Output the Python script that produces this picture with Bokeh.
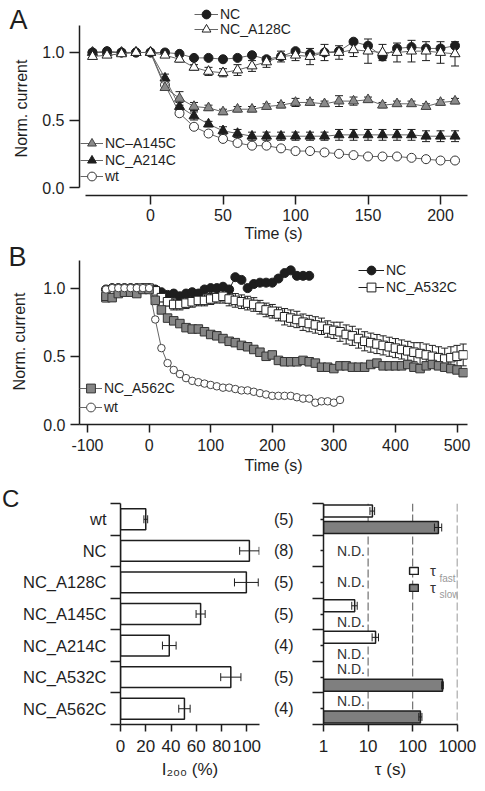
import math
from bokeh.plotting import figure
from bokeh.models import (Range1d, FixedTicker, NumeralTickFormatter, Legend, LegendItem,
                          Whisker, TeeHead, ColumnDataSource, Label, Span)
from bokeh.layouts import column, row
from bokeh.embed import file_html
from bokeh.resources import INLINE
from bokeh.core.properties import value

FONT = "Liberation Sans"
INK = "#1e1e1e"
MID = "#666666"
GFILL = "#8a8a8a"

# ---------------- Panel A data ----------------
time_a = list(range(-40, 211, 10))
nc_a = [1.00, 1.01, 1.00, 1.00, 1.00, 1.00, 0.99, 0.96, 0.96, 0.95, 0.96, 0.98, 0.95,
        0.97, 1.01, 0.99, 1.00, 1.01, 1.08, 1.05, 0.97, 1.03, 1.04, 1.03, 1.03, 1.05]
a128c_a = [0.97, 0.98, 0.99, 1.00, 1.00, 0.98, 0.95, 0.89, 0.86, 0.85, 0.87, 0.90, 0.93,
           0.97, 0.98, 0.97, 1.00, 1.00, 1.02, 1.01, 1.00, 1.00, 1.01, 1.01, 1.00, 0.99]
a128c_err = [0.01, 0.01, 0.01, 0.00, 0.00, 0.01, 0.02, 0.02, 0.03, 0.03, 0.04, 0.04, 0.04,
             0.04, 0.04, 0.06, 0.06, 0.05, 0.05, 0.09, 0.06, 0.07, 0.08, 0.07, 0.08, 0.09]
a145c_a = [1.00, 1.00, 1.00, 1.00, 1.00, 0.74, 0.66, 0.60, 0.59, 0.56, 0.58, 0.58, 0.60,
           0.61, 0.63, 0.63, 0.62, 0.64, 0.64, 0.65, 0.61, 0.62, 0.62, 0.60, 0.63, 0.64]
a145c_err = [0.00, 0.00, 0.00, 0.00, 0.00, 0.02, 0.05, 0.03, 0.02, 0.02, 0.02, 0.02, 0.02,
             0.02, 0.03, 0.02, 0.02, 0.04, 0.03, 0.02, 0.02, 0.02, 0.02, 0.02, 0.02, 0.02]
a214c_a = [1.00, 1.00, 1.00, 1.00, 1.00, 0.81, 0.60, 0.53, 0.47, 0.42, 0.40, 0.38, 0.38,
           0.38, 0.38, 0.38, 0.38, 0.39, 0.39, 0.39, 0.39, 0.39, 0.39, 0.38, 0.38, 0.38]
a214c_err = [0.00, 0.00, 0.00, 0.00, 0.00, 0.03, 0.03, 0.03, 0.02, 0.03, 0.03, 0.03, 0.03,
             0.03, 0.03, 0.03, 0.03, 0.04, 0.04, 0.04, 0.04, 0.04, 0.04, 0.04, 0.04, 0.04]
wt_a = [1.00, 1.00, 1.00, 1.00, 1.00, 0.76, 0.55, 0.45, 0.40, 0.36, 0.33, 0.31, 0.31,
        0.29, 0.27, 0.27, 0.26, 0.25, 0.24, 0.23, 0.23, 0.23, 0.22, 0.21, 0.20, 0.20]

# ---------------- Panel B data ----------------
time_b_long = list(range(-70, 511, 10))
a562c_b = [0.94, 0.93, 0.96, 0.97, 0.97, 0.96, 0.99, 0.99,
           0.91, 0.84, 0.78, 0.76, 0.74, 0.71, 0.70, 0.70, 0.68, 0.66,
           0.65, 0.63, 0.61, 0.60, 0.58, 0.57, 0.55, 0.53, 0.50, 0.51,
           0.47, 0.46, 0.46, 0.46, 0.47, 0.46, 0.45, 0.42, 0.42, 0.41,
           0.43, 0.43, 0.42, 0.42, 0.42, 0.44, 0.45, 0.43, 0.43, 0.43,
           0.43, 0.44, 0.42, 0.41, 0.43, 0.44, 0.43, 0.42, 0.41, 0.40, 0.38]
a532c_b = [0.93, 0.96, 0.98, 0.99, 0.99, 0.99, 1.00, 1.00,
           0.98, 0.93, 0.90, 0.88, 0.88, 0.89, 0.90, 0.91, 0.91, 0.92,
           0.93, 0.94, 0.92, 0.91, 0.90, 0.89, 0.88, 0.86, 0.84, 0.83,
           0.81, 0.79, 0.78, 0.77, 0.75, 0.74, 0.73, 0.72, 0.70, 0.69,
           0.68, 0.66, 0.65, 0.63, 0.61, 0.60, 0.59, 0.58, 0.57, 0.56,
           0.55, 0.54, 0.53, 0.52, 0.51, 0.50, 0.49, 0.48, 0.49, 0.50, 0.51]
a532c_err = [0.03, 0.02, 0.02, 0.01, 0.01, 0.01, 0.00, 0.00,
             0.02, 0.03, 0.03, 0.04, 0.04, 0.04, 0.04, 0.04, 0.04, 0.04,
             0.04, 0.05, 0.05, 0.05, 0.05, 0.05, 0.05, 0.05, 0.05, 0.05,
             0.05, 0.06, 0.06, 0.06, 0.06, 0.06, 0.06, 0.06, 0.06, 0.06,
             0.07, 0.07, 0.07, 0.07, 0.07, 0.07, 0.07, 0.07, 0.07, 0.07,
             0.07, 0.07, 0.07, 0.08, 0.08, 0.08, 0.08, 0.08, 0.08, 0.08, 0.08]
time_b_nc = list(range(-70, 261, 10))
nc_b = [0.99, 1.00, 1.00, 1.00, 1.00, 1.00, 1.00, 1.00,
        0.99, 0.97, 0.95, 0.96, 0.94, 0.96, 0.97, 0.96, 0.99, 1.00,
        1.00, 1.01, 0.99, 1.08, 1.06, 1.00, 1.03, 1.04, 1.04, 1.04,
        1.07, 1.11, 1.13, 1.09, 1.09, 1.09]
time_b_wt = list(range(-70, 311, 10))
wt_b = [0.99, 1.00, 1.00, 1.00, 1.00, 1.00, 1.00, 1.00,
        0.77, 0.56, 0.45, 0.40, 0.37, 0.34, 0.32, 0.31, 0.30, 0.29,
        0.28, 0.27, 0.27, 0.26, 0.25, 0.25, 0.24, 0.23, 0.22, 0.21,
        0.21, 0.21, 0.21, 0.20, 0.19, 0.19, 0.16, 0.17, 0.17, 0.16, 0.18]

# ---------------- Panel C data ----------------
categories = ["wt", "NC", "NC_A128C", "NC_A145C", "NC_A214C", "NC_A532C", "NC_A562C"]
n_cells = ["(5)", "(8)", "(5)", "(5)", "(4)", "(5)", "(4)"]
i200 = [20.0, 102.0, 99.6, 63.4, 38.6, 87.3, 50.6]
i200_err = [1.5, 7.7, 9.4, 3.6, 5.4, 8.0, 4.5]
tau_fast = [12.5, None, None, 5.0, 14.7, None, None]
tau_fast_err = [1.5, None, None, 0.7, 2.4, None, None]
tau_slow = [377.0, None, None, None, None, 466.0, 149.0]
tau_slow_err = [70.0, None, None, None, None, 20.0, 12.0]


def make_fig(w, h, bl, br, bt, bb, xr, yr, x_type="linear"):
    p = figure(width=w, height=h, x_range=xr, y_range=yr, x_axis_type=x_type,
               output_backend="svg", toolbar_location=None, title=None,
               min_border_left=bl, min_border_right=br, min_border_top=bt, min_border_bottom=bb)
    p.outline_line_color = None
    p.grid.grid_line_color = None
    p.background_fill_color = "white"
    p.border_fill_color = "white"
    for ax in p.axis:
        ax.axis_line_color = INK
        ax.axis_line_width = 1.5
        ax.major_tick_line_color = INK
        ax.major_tick_line_width = 1.5
        ax.major_tick_in = 0
        ax.minor_tick_line_color = None
        ax.major_label_text_font = FONT
        ax.major_label_text_color = INK
        ax.axis_label_text_font = FONT
        ax.axis_label_text_font_style = "normal"
        ax.axis_label_text_color = INK
    return p


def make_strip(w, h):
    p = figure(width=w, height=h, x_range=Range1d(0, w), y_range=Range1d(0, h),
               output_backend="svg", toolbar_location=None, title=None,
               x_axis_location=None, y_axis_location=None, min_border=0)
    p.outline_line_color = None
    p.grid.visible = False
    p.background_fill_color = "white"
    p.border_fill_color = "white"
    return p


def strip_text(p, x, y, txt, size, angle=0.0, align="left"):
    p.text(x=[x], y=[y], text=[txt], angle=angle, text_font=value(FONT),
           text_font_size=size, text_color=INK, text_align=align, text_baseline="middle")


def series(p, t, y, marker, size, fill, edge, line_color, err=None, head=8):
    data = dict(t=t, y=y)
    if err is not None:
        data["lo"] = [a - e for a, e in zip(y, err)]
        data["hi"] = [a + e for a, e in zip(y, err)]
    src = ColumnDataSource(data)
    if err is not None:
        p.add_layout(Whisker(source=src, base="t", lower="lo", upper="hi", dimension="height",
                             line_color=INK, line_width=1,
                             upper_head=TeeHead(size=head, line_color=INK, line_width=1),
                             lower_head=TeeHead(size=head, line_color=INK, line_width=1)))
    ln = p.line("t", "y", source=src, line_color=line_color, line_width=1)
    sc = p.scatter("t", "y", source=src, marker=marker, size=size, fill_color=fill,
                   line_color=edge, line_width=1)
    return [ln, sc]


def legend_item(p, label, renderers, loc, gw):
    lg = Legend(items=[LegendItem(label=label, renderers=renderers)],
                location=loc, glyph_width=gw, glyph_height=22, label_height=22,
                spacing=0, padding=0, margin=0, label_standoff=2,
                border_line_color=None, background_fill_alpha=0,
                label_text_font=FONT, label_text_font_size="14px", label_text_color=INK)
    p.add_layout(lg)


# ============ left strip for panels A and B (panel letters, y titles) ============
STRIP_H = 480
sAB = make_strip(30, STRIP_H)
strip_text(sAB, 9, STRIP_H - 19.5, "A", "27px")
strip_text(sAB, 21, STRIP_H - 108, "Norm. current", "16px", angle=math.pi / 2, align="center")
strip_text(sAB, 8, STRIP_H - 256, "B", "27px")
strip_text(sAB, 19, STRIP_H - 341, "Norm. current", "16px", angle=math.pi / 2, align="center")

# ================= Panel A =================
pA = make_fig(450, 254, 49, 13, 5, 59, Range1d(-48.97, 218.6), Range1d(-0.059, 1.348))
pA.xaxis.ticker = FixedTicker(ticks=[0, 50, 100, 150, 200])
pA.xaxis.bounds = (-45, 218.6)
pA.xaxis.major_tick_out = 9
pA.xaxis.major_label_standoff = 4
pA.xaxis.axis_label = "Time (s)"
pA.xaxis.axis_label_standoff = 1
pA.yaxis.ticker = FixedTicker(ticks=[0.0, 0.5, 1.0])
pA.yaxis.formatter = NumeralTickFormatter(format="0.0")
pA.yaxis.bounds = (0, 1.2)
pA.yaxis.major_tick_out = 10
pA.yaxis.major_label_standoff = 5
for ax in pA.axis:
    ax.major_label_text_font_size = "16px"
    ax.axis_label_text_font_size = "16px"

r_wt_a = series(pA, time_a, wt_a, "circle", 9, "white", "#333333", MID)
r_214_a = series(pA, time_a, a214c_a, "triangle", 10, INK, INK, MID, a214c_err)
r_145_a = series(pA, time_a, a145c_a, "triangle", 10, GFILL, "#444444", MID, a145c_err)
r_nc_a = series(pA, time_a, nc_a, "circle", 9, INK, INK, MID)
r_128_a = series(pA, time_a, a128c_a, "triangle", 10, "white", INK, MID, a128c_err)

legend_item(pA, "NC", r_nc_a, (115, 170), 24)
legend_item(pA, "NC_A128C", r_128_a, (115, 155), 24)
legend_item(pA, "NC\u2013A145C", r_145_a, (1, 41), 23)
legend_item(pA, "NC_A214C", r_214_a, (1, 24), 23)
legend_item(pA, "wt", r_wt_a, (1, 8), 23)

# ================= Panel B =================
pB = make_fig(450, 226, 48, 13, 4, 56, Range1d(-113, 517), Range1d(0, 1.217))
pB.xaxis.ticker = FixedTicker(ticks=[-100, 0, 100, 200, 300, 400, 500])
pB.xaxis.major_label_overrides = {-100: "-100"}
pB.xaxis.major_tick_out = 8
pB.xaxis.major_label_standoff = 6
pB.xaxis.axis_label = "Time (s)"
pB.xaxis.axis_label_standoff = 3
pB.yaxis.ticker = FixedTicker(ticks=[0.0, 0.5, 1.0])
pB.yaxis.formatter = NumeralTickFormatter(format="0.0")
pB.yaxis.bounds = (0, 1.2)
pB.yaxis.major_tick_out = 9
pB.yaxis.major_label_standoff = 5
for ax in pB.axis:
    ax.major_label_text_font_size = "16px"
    ax.axis_label_text_font_size = "16px"

r_nc_b = series(pB, time_b_nc, nc_b, "circle", 9, INK, INK, INK)
r_532_b = series(pB, time_b_long, a532c_b, "square", 8.5, "white", INK, INK, a532c_err, head=7)
r_562_b = series(pB, time_b_long, a562c_b, "square", 8.5, "#858585", "#333333", MID)
r_wt_b = series(pB, time_b_wt, wt_b, "circle", 7.5, "white", "#444444", MID)

legend_item(pB, "NC", r_nc_b, (279, 143), 26)
legend_item(pB, "NC_A532C", r_532_b, (279, 126), 26)
legend_item(pB, "NC_A562C", r_562_b, (0, 25), 23)
legend_item(pB, "wt", r_wt_b, (0, 6), 23)

# ================= Panel C (left) =================
C_H = 308
sC = make_strip(20, C_H)
strip_text(sC, 1.5, C_H - 17.5, "C", "24px")

idx = list(range(len(categories)))
bounds_ticks = [k - 0.5 for k in range(len(categories) + 1)]

pC1 = make_fig(250, C_H, 87, 11, 23, 64, Range1d(0, 110), Range1d(6.5, -0.5))
pC1.xaxis.ticker = FixedTicker(ticks=[0, 20, 40, 60, 80, 100])
pC1.xaxis.major_tick_out = 7
pC1.xaxis.major_label_standoff = 8
pC1.xaxis.axis_label = "I\u2082\u2080\u2080 (%)"
pC1.xaxis.axis_label_standoff = 5
pC1.yaxis.ticker = FixedTicker(ticks=idx, minor_ticks=bounds_ticks)
pC1.yaxis.major_label_overrides = {i: c for i, c in zip(idx, categories)}
pC1.yaxis.major_tick_out = 0
pC1.yaxis.major_label_standoff = 4
pC1.yaxis.minor_tick_line_color = INK
pC1.yaxis.minor_tick_line_width = 1.5
pC1.yaxis.minor_tick_in = 0
pC1.yaxis.minor_tick_out = 10
for ax in pC1.axis:
    ax.major_label_text_font_size = "17px"
    ax.axis_label_text_font_size = "17px"
pC1.yaxis.major_label_text_font_size = "16.5px"

src_c1 = ColumnDataSource(dict(y=idx, v=i200,
                               lo=[a - e for a, e in zip(i200, i200_err)],
                               hi=[a + e for a, e in zip(i200, i200_err)]))
pC1.hbar(y="y", left=0, right="v", height=0.66, source=src_c1,
         fill_color="white", line_color=INK, line_width=1.5)
pC1.add_layout(Whisker(source=src_c1, base="y", lower="lo", upper="hi", dimension="width",
                       line_color=INK, line_width=1, level="overlay",
                       upper_head=TeeHead(size=8, line_color=INK, line_width=1),
                       lower_head=TeeHead(size=8, line_color=INK, line_width=1)))

# ================= Panel C (right) =================
pC2 = make_fig(210, C_H, 46, 23, 23, 64, Range1d(1, 1010), Range1d(6.5, -0.5), x_type="log")
pC2.xaxis.ticker = FixedTicker(ticks=[1, 10, 100, 1000])
pC2.xaxis.major_label_overrides = {1: "1", 10: "10", 100: "100", 1000: "1000"}
pC2.xaxis.bounds = (1, 1000)
pC2.xaxis.major_tick_out = 7
pC2.xaxis.major_label_standoff = 8
pC2.xaxis.axis_label = "\u03c4 (s)"
pC2.xaxis.axis_label_standoff = 5
pC2.yaxis.ticker = FixedTicker(ticks=idx, minor_ticks=bounds_ticks)
pC2.yaxis.major_label_overrides = {i: n for i, n in zip(idx, n_cells)}
pC2.yaxis.major_tick_out = 3
pC2.yaxis.major_label_standoff = 19
pC2.yaxis.minor_tick_line_color = INK
pC2.yaxis.minor_tick_line_width = 1.5
pC2.yaxis.minor_tick_in = 0
pC2.yaxis.minor_tick_out = 11
for ax in pC2.axis:
    ax.major_label_text_font_size = "17px"
    ax.axis_label_text_font_size = "17px"
pC2.yaxis.major_label_text_font_size = "16px"

for loc in [10, 100, 1000]:
    pC2.add_layout(Span(location=loc, dimension="height", line_color="#555555",
                        line_width=1, line_dash="8 3", level="underlay"))

OFF = 0.26
fy = [i - OFF for i, v in zip(idx, tau_fast) if v is not None]
fv = [v for v in tau_fast if v is not None]
fe = [e for e in tau_fast_err if e is not None]
sy = [i + OFF for i, v in zip(idx, tau_slow) if v is not None]
sv = [v for v in tau_slow if v is not None]
se = [e for e in tau_slow_err if e is not None]
src_f = ColumnDataSource(dict(y=fy, v=fv, lo=[a - e for a, e in zip(fv, fe)],
                              hi=[a + e for a, e in zip(fv, fe)]))
src_s = ColumnDataSource(dict(y=sy, v=sv, lo=[a - e for a, e in zip(sv, se)],
                              hi=[a + e for a, e in zip(sv, se)]))
r_fast = pC2.hbar(y="y", left=1, right="v", height=0.38, source=src_f,
                  fill_color="white", line_color=INK, line_width=1.5)
r_slow = pC2.hbar(y="y", left=1, right="v", height=0.38, source=src_s,
                  fill_color="#7f7f7f", line_color=INK, line_width=1.5)
for s in (src_f, src_s):
    pC2.add_layout(Whisker(source=s, base="y", lower="lo", upper="hi", dimension="width",
                           line_color=INK, line_width=1, level="overlay",
                           upper_head=TeeHead(size=8, line_color=INK, line_width=1),
                           lower_head=TeeHead(size=8, line_color=INK, line_width=1)))

nd_y = []
for i, f, s in zip(idx, tau_fast, tau_slow):
    if f is None and s is None:
        nd_y.append(i)
    elif f is None:
        nd_y.append(i - OFF)
    elif s is None:
        nd_y.append(i + OFF)
pC2.text(x=[2.0] * len(nd_y), y=nd_y, text=["N.D."] * len(nd_y),
         text_font=value(FONT), text_font_size="14px", text_color="#333333",
         text_align="left", text_baseline="middle")

lg = Legend(items=[LegendItem(label="\u03c4", renderers=[r_fast]),
                   LegendItem(label="\u03c4", renderers=[r_slow])],
            location=(85, 128), glyph_width=11, glyph_height=9, label_height=16,
            spacing=0, padding=0, margin=0, label_standoff=11,
            border_line_color=None, background_fill_alpha=0,
            label_text_font=FONT, label_text_font_size="15px", label_text_color="#333333")
pC2.add_layout(lg)
for txt, yy in (("fast", 146), ("slow", 130)):
    pC2.add_layout(Label(x=116, y=yy, x_units="screen", y_units="screen", text=txt,
                         text_font=FONT, text_font_size="10px", text_color="#999999",
                         text_baseline="alphabetic"))

layout = column(row(sAB, column(pA, pB)), row(column(sC), pC1, pC2))
open("out.html", "w").write(file_html(layout, INLINE))
